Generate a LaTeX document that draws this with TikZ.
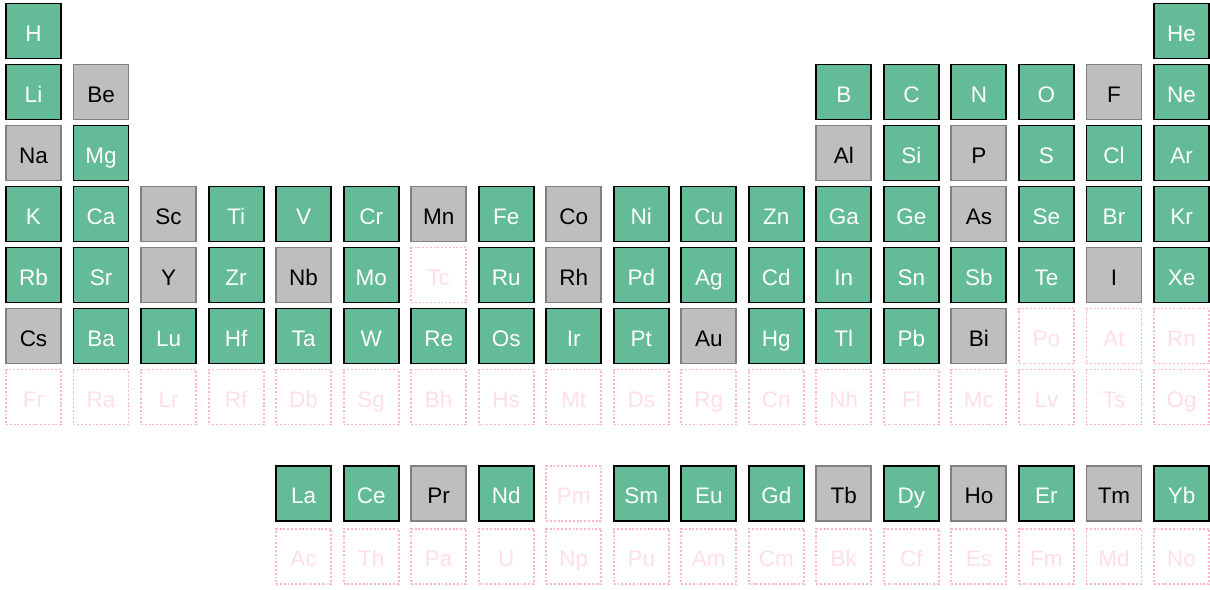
\documentclass[tikz,border=0pt]{standalone}
\usepackage{fontspec}
\setmainfont{Liberation Sans}
\usepackage{xcolor}
\usepackage{tikz}
\usetikzlibrary{positioning}
\definecolor{elgreen}{RGB}{99,187,151}
\definecolor{elgrey}{RGB}{190,190,190}
\definecolor{elgreyedge}{RGB}{128,128,128}
\definecolor{elpinkedge}{RGB}{255,182,200}
\definecolor{elpinktext}{RGB}{255,222,232}

\begin{document}
\begin{tikzpicture}[
      x=67.53pt, y=-61pt,
      every node/.style={rectangle, minimum size=55pt, inner sep=0pt, line width=1.9pt,
        text height=20pt, text depth=0pt, font=\fontsize{22.5}{26}\selectfont},
      elfound/.style={fill=elgreen, draw=black, text=white},
      elpart/.style={fill=elgrey, draw=elgreyedge, text=black},
      elnone/.style={draw=elpinkedge, dash pattern={on 1.9pt off 1.9pt}, text=elpinktext}
    ]
      \useasboundingbox (34.03pt,-30pt) rectangle (1244.03pt,-619pt);
      \foreach \el/\c/\st in {H/1/elfound, He/18/elfound}
        \node[\st] (\el) at (\c,1) {\el};
      \foreach \el/\c/\st in {Li/1/elfound, Be/2/elpart, B/13/elfound, C/14/elfound,
          N/15/elfound, O/16/elfound, F/17/elpart, Ne/18/elfound}
        \node[\st] (\el) at (\c,2) {\el};
      \foreach \el/\c/\st in {Na/1/elpart, Mg/2/elfound, Al/13/elpart, Si/14/elfound,
          P/15/elpart, S/16/elfound, Cl/17/elfound, Ar/18/elfound}
        \node[\st] (\el) at (\c,3) {\el};
      \foreach \el/\st [count=\c] in {K/elfound, Ca/elfound, Sc/elpart, Ti/elfound,
          V/elfound, Cr/elfound, Mn/elpart, Fe/elfound, Co/elpart, Ni/elfound,
          Cu/elfound, Zn/elfound, Ga/elfound, Ge/elfound, As/elpart, Se/elfound,
          Br/elfound, Kr/elfound}
        \node[\st] (\el) at (\c,4) {\el};
      \foreach \el/\st [count=\c] in {Rb/elfound, Sr/elfound, Y/elpart, Zr/elfound,
          Nb/elpart, Mo/elfound, Tc/elnone, Ru/elfound, Rh/elpart, Pd/elfound,
          Ag/elfound, Cd/elfound, In/elfound, Sn/elfound, Sb/elfound, Te/elfound,
          I/elpart, Xe/elfound}
        \node[\st] (\el) at (\c,5) {\el};
      \foreach \el/\st [count=\c] in {Cs/elpart, Ba/elfound, Lu/elfound, Hf/elfound,
          Ta/elfound, W/elfound, Re/elfound, Os/elfound, Ir/elfound, Pt/elfound,
          Au/elpart, Hg/elfound, Tl/elfound, Pb/elfound, Bi/elpart, Po/elnone,
          At/elnone, Rn/elnone}
        \node[\st] (\el) at (\c,6) {\el};
      \foreach \el [count=\c] in {Fr, Ra, Lr, Rf, Db, Sg, Bh, Hs, Mt, Ds, Rg, Cn,
          Nh, Fl, Mc, Lv, Ts, Og}
        \node[elnone] (\el) at (\c,7) {\el};
      \foreach \el/\st [count=\i] in {La/elfound, Ce/elfound, Pr/elpart, Nd/elfound,
          Pm/elnone, Sm/elfound, Eu/elfound, Gd/elfound, Tb/elpart, Dy/elfound,
          Ho/elpart, Er/elfound, Tm/elpart, Yb/elfound}
        \node[\st] (\el) at (\i+4,8.58) {\el};
      \foreach \el [count=\i] in {Ac, Th, Pa, U, Np, Pu, Am, Cm, Bk, Cf, Es, Fm,
          Md, No}
        \node[elnone] (\el) at (\i+4,9.61) {\el};
    \end{tikzpicture}
\end{document}
